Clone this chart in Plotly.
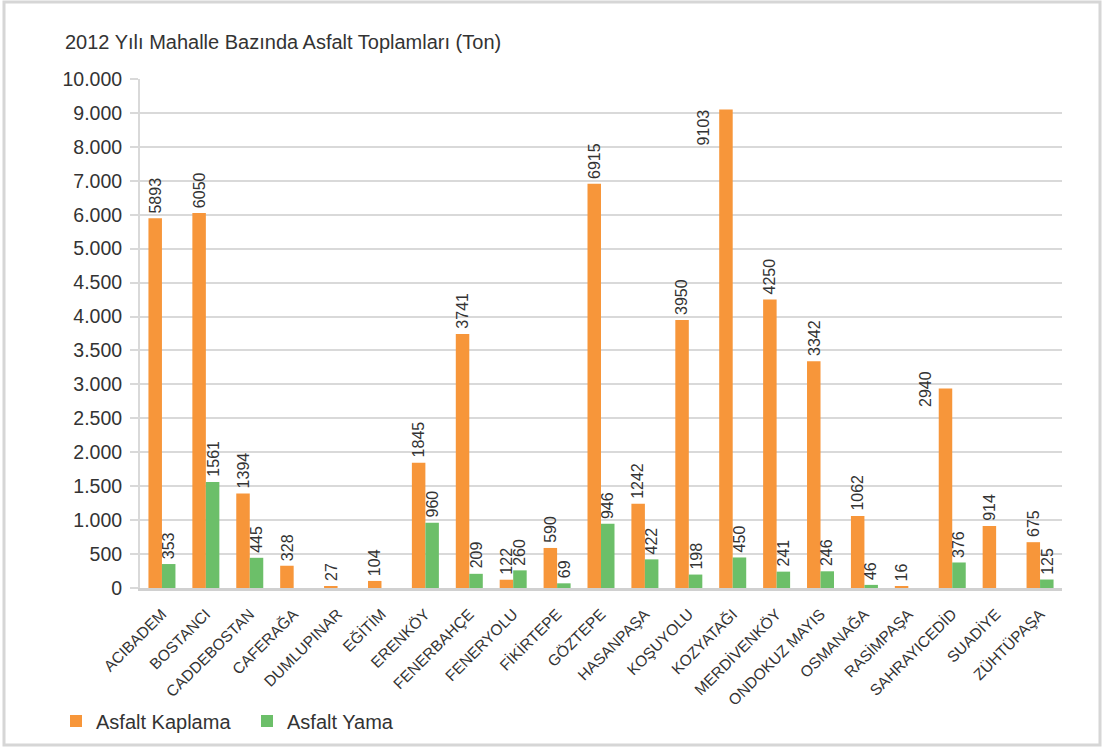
import numpy as np
import plotly.graph_objects as go

# ---------------- data ----------------
neighbourhoods = ["ACIBADEM", "BOSTANCI", "CADDEBOSTAN", "CAFERAĞA", "DUMLUPINAR", "EĞİTİM",
                  "ERENKÖY", "FENERBAHÇE", "FENERYOLU", "FİKİRTEPE", "GÖZTEPE", "HASANPAŞA",
                  "KOŞUYOLU", "KOZYATAĞI", "MERDİVENKÖY", "ONDOKUZ MAYIS", "OSMANAĞA",
                  "RASİMPAŞA", "SAHRAYICEDİD", "SUADİYE", "ZÜHTÜPAŞA"]
asfalt_kaplama = [5893, 6050, 1394, 328, 27, 104, 1845, 3741, 122, 590, 6915, 1242,
                  3950, 9103, 4250, 3342, 1062, 16, 2940, 914, 675]
asfalt_yama = [353, 1561, 445, None, None, None, 960, 209, 260, 69, 946, 422,
               198, 450, 241, 246, 46, None, 376, None, 125]
y_tick_values = [0, 500, 1000, 1500, 2000, 2500, 3000, 3500, 4000, 4500, 5000,
                 6000, 7000, 8000, 9000, 10000]
y_tick_labels = ["0", "500", "1.000", "1.500", "2.000", "2.500", "3.000", "3.500",
                 "4.000", "4.500", "5.000", "6.000", "7.000", "8.000", "9.000", "10.000"]
title_text = "2012 Yılı Mahalle Bazında Asfalt Toplamları (Ton)"

# ---------------- styling ----------------
W, H = 1104, 748
ML, MR, MT, MB = 140, 42, 79, 160
ORANGE = "#F7963A"
GREEN = "#6CBF69"
GRID = "#d9d9d9"
TXT = "#333333"
FONT = "Liberation Sans, Arial, sans-serif"
BARGAP = 0.385

# y axis: evenly spaced ticks whose labels are not evenly spaced values
tick_index = list(range(len(y_tick_values)))


def to_axis(v):
    return None if v is None else float(np.interp(v, y_tick_values, tick_index))


fig = go.Figure()
fig.add_trace(go.Bar(x=neighbourhoods, y=[to_axis(v) for v in asfalt_kaplama],
                     name="Asfalt Kaplama", marker_color=ORANGE, marker_line_width=0,
                     customdata=asfalt_kaplama, hovertemplate="%{x}: %{customdata}<extra>Asfalt Kaplama</extra>"))
fig.add_trace(go.Bar(x=neighbourhoods, y=[to_axis(v) for v in asfalt_yama],
                     name="Asfalt Yama", marker_color=GREEN, marker_line_width=0,
                     customdata=asfalt_yama, hovertemplate="%{x}: %{customdata}<extra>Asfalt Yama</extra>"))

# data labels (rotated)
half = (1 - BARGAP) / 4
special = {("k", "KOZYATAĞI"): dict(xshift=-23, yanchor="top", yshift=2),
           ("k", "SAHRAYICEDİD"): dict(xshift=-20, yanchor="middle", yshift=0)}
annotations = []
for i, name in enumerate(neighbourhoods):
    for key, vals, off in (("k", asfalt_kaplama, -half), ("y", asfalt_yama, half)):
        v = vals[i]
        if v is None:
            continue
        a = dict(x=i + off, y=to_axis(v), xref="x", yref="y", text=str(v), textangle=-90,
                 showarrow=False, yanchor="bottom", xanchor="center", yshift=3,
                 font=dict(family=FONT, size=16, color=TXT))
        a.update(special.get((key, name), {}))
        annotations.append(a)

# outer frame (in paper coordinates derived from pixel margins)
pw, ph = W - ML - MR, H - MT - MB


def px_x(p):
    return (p - ML) / pw


def px_y(p):
    return (H - MB - p) / ph


fig.add_shape(type="rect", xref="paper", yref="paper",
              x0=px_x(4), x1=px_x(W - 4), y0=px_y(H - 3), y1=px_y(2),
              line=dict(color="#d6d6d6", width=3), fillcolor="rgba(0,0,0,0)", layer="below")

fig.update_layout(
    width=W, height=H,
    margin=dict(l=ML, r=MR, t=MT, b=MB, pad=0, autoexpand=False),
    paper_bgcolor="white", plot_bgcolor="white",
    font=dict(family=FONT, color=TXT),
    barmode="group", bargap=BARGAP, bargroupgap=0,
    title=dict(text=title_text, x=65 / W, xanchor="left", xref="container",
               y=1 - 42 / H, yanchor="middle", yref="container",
               font=dict(family=FONT, size=20, color=TXT)),
    xaxis=dict(type="category", showgrid=False, showline=True, linecolor="#d0d0d0", linewidth=3,
               ticks="", tickangle=-45, tickfont=dict(family=FONT, size=15.5, color=TXT),
               ticklabelstandoff=8, automargin=False,
               range=[-0.5, len(neighbourhoods) - 0.5]),
    yaxis=dict(range=[0, len(y_tick_values) - 1], tickmode="array", tickvals=tick_index,
               ticktext=y_tick_labels, showgrid=True, gridcolor=GRID, gridwidth=2,
               ticks="outside", ticklen=8, tickwidth=2, tickcolor=GRID,
               showline=True, linecolor=GRID, linewidth=2, zeroline=False,
               ticklabelstandoff=4, automargin=False,
               tickfont=dict(family=FONT, size=19.5, color=TXT)),
    legend=dict(orientation="h", xref="container", yref="container",
                x=56 / W, xanchor="left", y=1 - 721 / H, yanchor="middle",
                bgcolor="rgba(0,0,0,0)",
                font=dict(family=FONT, size=20, color=TXT), traceorder="normal",
                itemclick=False, entrywidth=146, entrywidthmode="pixels"),
    annotations=annotations,
    showlegend=True,
)

fig.write_html("out.html", config={"displayModeBar": False},
               post_script="document.body.style.margin='0';")
